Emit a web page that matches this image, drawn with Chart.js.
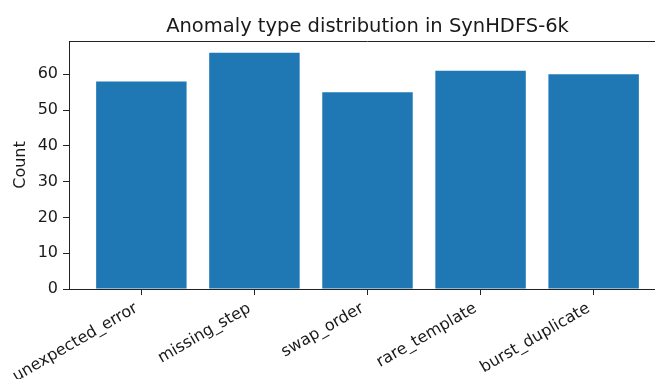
<!DOCTYPE html>
<html>
<head>
<meta charset="utf-8">
<script src="https://cdn.jsdelivr.net/npm/chart.js@4"></script>
<style>
html,body{margin:0;padding:0;overflow:hidden;background:#fff;width:655px;height:379px;}
#wrap{width:734px;height:379px;}
</style>
</head>
<body>
<div id="wrap"><canvas id="c" width="734" height="379"></canvas></div>
<script>
const categories = ['unexpected_error', 'missing_step', 'swap_order', 'rare_template', 'burst_duplicate'];
const counts = [58, 66, 55, 61, 60];
const yTicks = [0, 10, 20, 30, 40, 50, 60];
const titleText = 'Anomaly type distribution in SynHDFS-6k';
const yLabel = 'Count';

const points = categories.map((c, i) => ({x: i, y: counts[i]}));
const FONT = 'DejaVu Sans';
const INK = '#1a1a1a';

const frame = {
  id: 'frame',
  afterDraw(chart) {
    const {ctx, chartArea: a} = chart;
    ctx.save();
    ctx.strokeStyle = '#222';
    ctx.lineWidth = 1;
    ctx.beginPath();
    ctx.moveTo(a.left, a.top + 0.5);
    ctx.lineTo(a.right, a.top + 0.5);
    ctx.moveTo(a.right - 0.5, a.top);
    ctx.lineTo(a.right - 0.5, a.bottom);
    ctx.stroke();
    // title centred over the plot area
    ctx.fillStyle = INK;
    ctx.font = '19.5px "' + FONT + '"';
    ctx.textAlign = 'center';
    ctx.textBaseline = 'alphabetic';
    ctx.fillText(titleText, (a.left + a.right) / 2, a.top - 9);
    ctx.restore();
  }
};

new Chart(document.getElementById('c'), {
  type: 'bar',
  data: {
    datasets: [{
      data: points,
      backgroundColor: '#1f77b4',
      borderWidth: 0,
      categoryPercentage: 1,
      barPercentage: 0.8
    }]
  },
  options: {
    responsive: false,
    animation: false,
    layout: {padding: {left: 0, right: 68, top: 41, bottom: 0}},
    plugins: {
      legend: {display: false},
      tooltip: {enabled: false},
      title: {display: false}
    },
    scales: {
      x: {
        type: 'linear',
        bounds: 'data',
        min: -0.64,
        max: 4.64,
        offset: false,
        afterFit(s) { s.height = 90; },
        afterBuildTicks(s) { s.ticks = categories.map((c, i) => ({value: i})); },
        ticks: {
          autoSkip: false,
          minRotation: 30,
          maxRotation: 30,
          padding: 4,
          labelOffset: -5,
          color: INK,
          font: {family: FONT, size: 16},
          callback: (v) => categories[v]
        },
        grid: {display: true, offset: false, drawOnChartArea: false, drawTicks: true, tickLength: 6, color: '#222', lineWidth: 1},
        border: {display: true, color: '#222', width: 1}
      },
      y: {
        type: 'linear',
        bounds: 'data',
        min: 0,
        max: 69.3,
        afterFit(s) { s.width = 69; },
        afterBuildTicks(s) { s.ticks = yTicks.map(v => ({value: v})); },
        ticks: {
          padding: 5,
          color: INK,
          font: {family: FONT, size: 16}
        },
        title: {
          display: true,
          text: yLabel,
          color: INK,
          font: {family: FONT, size: 16},
          padding: {top: 11, bottom: 0}
        },
        grid: {display: true, drawOnChartArea: false, drawTicks: true, tickLength: 6, color: '#222', lineWidth: 1},
        border: {display: true, color: '#222', width: 1}
      }
    }
  },
  plugins: [frame]
});
</script>
</body>
</html>
